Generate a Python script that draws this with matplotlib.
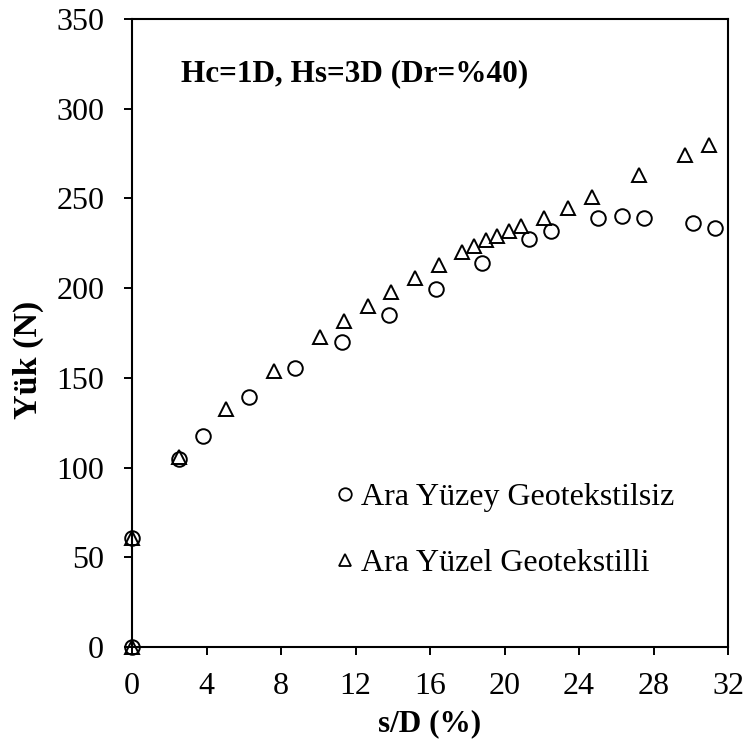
import matplotlib
matplotlib.use("Agg")
import matplotlib.pyplot as plt
from matplotlib.lines import Line2D

plt.rcParams['font.family'] = ['Liberation Serif', 'DejaVu Serif']

# s/D (%) and load (N) for the interface without geotextile
x_plain = [0, 0, 2.5, 3.8, 6.3, 8.75, 11.3, 13.8, 16.3, 18.8, 21.3, 22.5,
           25.0, 26.3, 27.5, 30.1, 31.3]
y_plain = [0, 61, 105, 117.5, 139.5, 155.3, 170, 185.2, 199.4, 214.2, 227.4,
           231.9, 239, 240.1, 239.3, 236.3, 233.5]

# s/D (%) and load (N) for the interface with geotextile
x_geo = [0, 0, 2.5, 5.05, 7.6, 10.1, 11.4, 12.65, 13.9, 15.2, 16.5, 17.7,
         18.35, 19.0, 19.6, 20.25, 20.9, 22.1, 23.4, 24.7, 27.2, 29.7, 31.0]
y_geo = [0, 61, 106, 132.4, 153.8, 172.6, 181.7, 190, 197.7, 205.9, 213,
         219.9, 223.3, 226.7, 229.3, 232, 234.4, 238.9, 244.6, 250.8, 263.1,
         274.2, 279.8]

labels = ["Ara Yüzey Geotekstilsiz", "Ara Yüzel Geotekstilli"]
x_ticks = [0, 4, 8, 12, 16, 20, 24, 28, 32]
y_ticks = [0, 50, 100, 150, 200, 250, 300, 350]

fig = plt.figure(figsize=(7.46, 7.45), dpi=100)
ax = fig.add_axes([132 / 746, 1 - 647 / 745, 596 / 746, 628 / 745])

ax.plot(x_plain, y_plain, linestyle='none', marker='o', markersize=10.5,
        markerfacecolor='none', markeredgecolor='black', markeredgewidth=1.4,
        clip_on=False, zorder=3)
ax.plot(x_geo, y_geo, linestyle='none', marker='^', markersize=10.5,
        markerfacecolor='none', markeredgecolor='black', markeredgewidth=1.4,
        clip_on=False, zorder=3)

ax.set_xlim(0, 32)
ax.set_ylim(0, 350)
ax.set_xticks(x_ticks)
ax.set_yticks(y_ticks)
ax.tick_params(direction='out', length=6, width=1.4, labelsize=23)
ax.tick_params(axis='x', pad=12)
ax.tick_params(axis='y', pad=14)
for s in ax.spines.values():
    s.set_linewidth(1.5)

ax.set_xlabel("s/D (%)", fontsize=22.5, fontweight='bold', va='center')
ax.xaxis.set_label_coords(0.5, (647 - 724) / 628)
ax.set_ylabel("Yük (N)", fontsize=24.5, fontweight='bold', va='center')
ax.yaxis.set_label_coords((28 - 132) / 596, (647 - 360) / 628)

ax.text(0.083, 0.9135, "Hc=1D, Hs=3D (Dr=%40)", transform=ax.transAxes,
        fontsize=22.5, fontweight='bold', va='center', ha='left')

handles = [
    Line2D([], [], linestyle='none', marker='o', markersize=9,
           markerfacecolor='none', markeredgecolor='black', markeredgewidth=1.3),
    Line2D([], [], linestyle='none', marker='^', markersize=9,
           markerfacecolor='none', markeredgecolor='black', markeredgewidth=1.3),
]
ax.legend(handles, labels, loc='upper left', bbox_to_anchor=(0.342, 0.262),
          frameon=False, fontsize=23, handlelength=0.6, handletextpad=0.2,
          labelspacing=1.15, borderpad=0, borderaxespad=0)

fig.savefig("out.png", dpi=100)
